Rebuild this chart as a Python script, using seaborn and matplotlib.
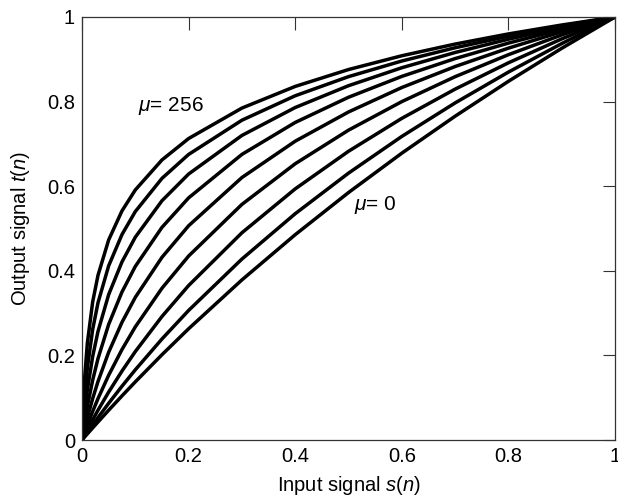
import pandas as pd
import seaborn as sns
import matplotlib
matplotlib.use("Agg")
import matplotlib.pyplot as plt

# input samples s(n) shared by every curve
s_vals = [0, 0.005, 0.01, 0.02, 0.03, 0.05, 0.075, 0.1, 0.15, 0.2,
          0.3, 0.4, 0.5, 0.6, 0.7, 0.8, 0.9, 1.0]

# output t(n) read for each curve
t_mu1 = [0, 0.0072, 0.0144, 0.0286, 0.0426, 0.0704, 0.1043, 0.1375, 0.2016, 0.2630,
         0.3785, 0.4854, 0.5850, 0.6781, 0.7655, 0.8480, 0.9260, 1.0]
t_mu2 = [0, 0.0091, 0.0180, 0.0357, 0.0530, 0.0868, 0.1272, 0.1660, 0.2388, 0.3063,
         0.4278, 0.5350, 0.6309, 0.7177, 0.7969, 0.8698, 0.9372, 1.0]
t_mu4 = [0, 0.0123, 0.0244, 0.0478, 0.0704, 0.1133, 0.1630, 0.2091, 0.2920, 0.3652,
         0.4899, 0.5937, 0.6826, 0.7604, 0.8295, 0.8917, 0.9482, 1.0]
t_mu8 = [0, 0.0179, 0.0350, 0.0675, 0.0979, 0.1531, 0.2139, 0.2675, 0.3588, 0.4349,
         0.5570, 0.6531, 0.7325, 0.8000, 0.8589, 0.9109, 0.9576, 1.0]
t_mu16 = [0, 0.0272, 0.0524, 0.0980, 0.1384, 0.2075, 0.2783, 0.3373, 0.4319, 0.5065,
          0.6205, 0.7064, 0.7755, 0.8333, 0.8829, 0.9264, 0.9651, 1.0]
t_mu32 = [0, 0.0424, 0.0794, 0.1415, 0.1925, 0.2733, 0.3500, 0.4104, 0.5027, 0.5724,
          0.6752, 0.7507, 0.8103, 0.8596, 0.9017, 0.9383, 0.9708, 1.0]
t_mu64 = [0, 0.0665, 0.1185, 0.1974, 0.2567, 0.3438, 0.4211, 0.4795, 0.5656, 0.6288,
          0.7200, 0.7860, 0.8376, 0.8801, 0.9161, 0.9475, 0.9752, 1.0]
t_mu128 = [0, 0.1018, 0.1696, 0.2613, 0.3245, 0.4118, 0.4858, 0.5401, 0.6185, 0.6751,
           0.7560, 0.8138, 0.8590, 0.8960, 0.9273, 0.9545, 0.9785, 1.0]
t_mu256 = [0, 0.1485, 0.2288, 0.3265, 0.3894, 0.4730, 0.5417, 0.5912, 0.6621, 0.7127,
           0.7847, 0.8359, 0.8758, 0.9084, 0.9360, 0.9600, 0.9811, 1.0]

mu_list = [1, 2, 4, 8, 16, 32, 64, 128, 256]
curves = [t_mu1, t_mu2, t_mu4, t_mu8, t_mu16, t_mu32, t_mu64, t_mu128, t_mu256]

ticks = [0, 0.2, 0.4, 0.6, 0.8, 1]
tick_labels = ["0", "0.2", "0.4", "0.6", "0.8", "1"]

rows = []
for mu, t in zip(mu_list, curves):
    for s, y in zip(s_vals, t):
        rows.append({"mu": mu, "s": s, "t": y})
df = pd.DataFrame(rows)

sns.set_style("white")
plt.rcParams["font.family"] = ["Liberation Sans", "DejaVu Sans"]
plt.rcParams["mathtext.fontset"] = "custom"
plt.rcParams["mathtext.rm"] = "Liberation Sans"
plt.rcParams["mathtext.it"] = "Liberation Sans:italic"
for k in ["text.color", "axes.labelcolor", "xtick.color", "ytick.color"]:
    plt.rcParams[k] = "black"

fig = plt.figure(figsize=(6.18, 5), dpi=100)
ax = fig.add_axes([0.1327, 0.12, 0.8625, 0.846])

sns.lineplot(data=df, x="s", y="t", hue="mu", palette=["black"] * len(mu_list),
             legend=False, linewidth=2.5, ax=ax, sort=True)

ax.set_xlim(0, 1)
ax.set_ylim(0, 1)
ax.set_xticks(ticks)
ax.set_xticklabels(tick_labels)
ax.set_yticks(ticks)
ax.set_yticklabels(tick_labels)
ax.tick_params(direction="in", length=9, width=0.8, color="#333333",
               top=True, right=True, labelsize=14.5, pad=5)
for sp in ax.spines.values():
    sp.set_linewidth(0.9)
    sp.set_color("#333333")

ax.set_xlabel("Input signal $s$($n$)", fontsize=14.5, labelpad=6)
ax.set_ylabel("Output signal $t$($n$)", fontsize=14.5, labelpad=11)

ax.text(0.105, 0.79, r"$\mu$= 256", fontsize=15, ha="left", va="center")
ax.text(0.51, 0.556, r"$\mu$= 0", fontsize=15, ha="left", va="center")

fig.savefig("out.png", dpi=100)
